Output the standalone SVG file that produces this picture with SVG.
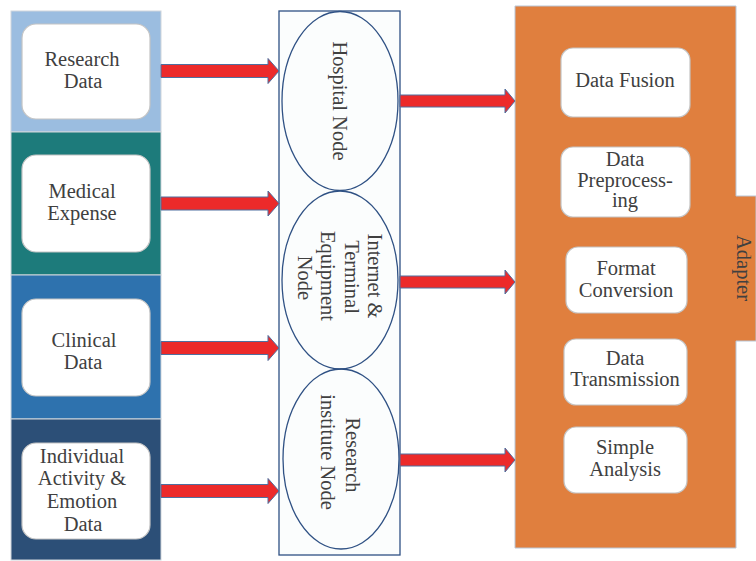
<svg xmlns="http://www.w3.org/2000/svg" width="756" height="561" viewBox="0 0 756 561">
<style>
.t{font-family:"Liberation Serif","Times New Roman",serif;font-size:20.5px;fill:#404040;text-anchor:middle}
.box{fill:#ffffff;stroke:#c4c4c4;stroke-width:1.2}
.arr{fill:#ec2a2a;stroke:#4f6f9f;stroke-width:1}
.ell{fill:none;stroke:#2f5184;stroke-width:1.3}
.panel{stroke:#d0d6dc;stroke-width:1}
</style>
<rect width="756" height="561" fill="#ffffff"/>

<g id="research-data">
<rect class="panel" x="11" y="11" width="150" height="121" fill="#9bbde0"/>
<rect class="box" x="22" y="24" width="128" height="95" rx="14"/>
<text class="t" x="82" y="66">Research</text>
<text class="t" x="83" y="88">Data</text>
</g>
<g id="medical-expense">
<rect class="panel" x="11" y="132" width="150" height="143" fill="#1d7b7b"/>
<rect class="box" x="22" y="155" width="128" height="97" rx="14"/>
<text class="t" x="82" y="198">Medical</text>
<text class="t" x="82" y="220">Expense</text>
</g>
<g id="clinical-data">
<rect class="panel" x="11" y="275" width="150" height="144" fill="#2e72ae"/>
<rect class="box" x="22" y="299" width="128" height="97" rx="14"/>
<text class="t" x="84" y="347">Clinical</text>
<text class="t" x="83" y="369">Data</text>
</g>
<g id="individual-data">
<rect class="panel" x="11" y="419" width="150" height="141" fill="#2c4f77"/>
<rect class="box" x="22" y="443" width="128" height="96" rx="14"/>
<text class="t" x="82" y="463">Individual</text>
<text class="t" x="82" y="485">Activity &amp;</text>
<text class="t" x="82" y="508">Emotion</text>
<text class="t" x="83" y="531">Data</text>
</g>

<g id="node-container">
<rect x="279" y="11" width="121" height="544" fill="#fbfdfd" stroke="#2f5184" stroke-width="1.3"/>
</g>
<g id="hospital-node">
<ellipse class="ell" cx="340" cy="101" rx="58" ry="89.5"/>
<text class="t" transform="translate(333,101) rotate(90)">Hospital Node</text>
</g>
<g id="internet-node">
<ellipse class="ell" cx="340" cy="280" rx="58" ry="89"/>
<text class="t" transform="translate(368,276) rotate(90)">Internet &amp;</text>
<text class="t" transform="translate(345,277) rotate(90)">Terminal</text>
<text class="t" transform="translate(321,276) rotate(90)">Equipment</text>
<text class="t" transform="translate(298,278) rotate(90)">Node</text>
</g>
<g id="research-node">
<ellipse class="ell" cx="341" cy="459" rx="58" ry="90"/>
<text class="t" transform="translate(346,455) rotate(90)">Research</text>
<text class="t" transform="translate(321,452) rotate(90)">institute Node</text>
</g>

<g id="adapter">
<path d="M515,6 H736 V196 H756 V341 H736 V548 H515 Z" fill="#e07f3e" stroke="#b8c6d6" stroke-width="1"/>
<text class="t" transform="translate(737,268) rotate(90)">Adapter</text>
</g>
<g id="data-fusion">
<rect class="box" x="561" y="48" width="129" height="69" rx="12"/>
<text class="t" x="625" y="87">Data Fusion</text>
</g>
<g id="data-preprocessing">
<rect class="box" x="561" y="147" width="129" height="70" rx="12"/>
<text class="t" x="625" y="166">Data</text>
<text class="t" x="625" y="187">Preprocess-</text>
<text class="t" x="625" y="207">ing</text>
</g>
<g id="format-conversion">
<rect class="box" x="566" y="247" width="121" height="66" rx="12"/>
<text class="t" x="626" y="275">Format</text>
<text class="t" x="626" y="297">Conversion</text>
</g>
<g id="data-transmission">
<rect class="box" x="564" y="339" width="123" height="66" rx="12"/>
<text class="t" x="625" y="365">Data</text>
<text class="t" x="625" y="386">Transmission</text>
</g>
<g id="simple-analysis">
<rect class="box" x="564" y="427" width="123" height="66" rx="12"/>
<text class="t" x="625" y="454">Simple</text>
<text class="t" x="625" y="476">Analysis</text>
</g>

<g id="connectors">
<polygon class="arr" points="161,64.5 268,64.5 268,58.5 279,71 268,83.5 268,77.5 161,77.5"/>
<polygon class="arr" points="161,197 268,197 268,191 279,203.5 268,216 268,210 161,210"/>
<polygon class="arr" points="161,341.5 268,341.5 268,335.5 279,348 268,360.5 268,354.5 161,354.5"/>
<polygon class="arr" points="161,484.5 268,484.5 268,478.5 279,491 268,503.5 268,497.5 161,497.5"/>
<polygon class="arr" points="400,95 505,95 505,89 515,101 505,113 505,107 400,107"/>
<polygon class="arr" points="400,276 505,276 505,270 515,282 505,294 505,288 400,288"/>
<polygon class="arr" points="400,454 505,454 505,448 515,460 505,472 505,466 400,466"/>
</g>
</svg>
